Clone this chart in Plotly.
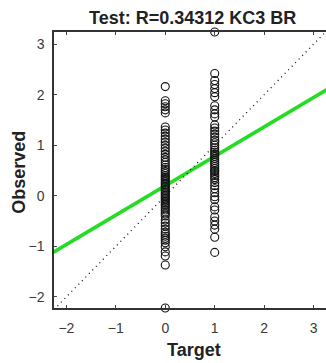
import numpy as np
import plotly.graph_objects as go

# ---- data ----
target_0 = 0.0
observed_0 = [2.16, 1.88, 1.82, 1.76, 1.70, 1.64,
              1.36, 1.30, 1.24, 1.18, 1.12, 1.06, 1.00, 0.94, 0.88, 0.82,
              0.76, 0.71, 0.66, 0.61, 0.56, 0.52, 0.48, 0.44, 0.40, 0.37, 0.34,
              0.31, 0.28, 0.25, 0.22, 0.19, 0.16, 0.13, 0.10, 0.07, 0.04, 0.01,
              -0.02, -0.05, -0.08, -0.11, -0.14, -0.17, -0.20, -0.24, -0.28, -0.32,
              -0.36, -0.40, -0.48, -0.54, -0.60, -0.66, -0.72, -0.76, -0.80, -0.84,
              -0.88, -0.93, -1.01, -1.11, -1.19, -1.37, -2.22]
target_1 = 1.0
observed_1 = [3.24, 2.42, 2.28, 2.20, 2.12, 2.04, 1.96,
              1.78, 1.70, 1.62, 1.56,
              1.40, 1.34, 1.28, 1.22, 1.16, 1.10, 1.05, 1.00,
              0.95, 0.90, 0.86, 0.82, 0.78, 0.74, 0.70, 0.66, 0.62, 0.58, 0.54, 0.50,
              0.48, 0.44, 0.40, 0.36, 0.32, 0.26, 0.20, 0.14, 0.06,
              -0.02, -0.08, -0.22, -0.28, -0.42, -0.50, -0.58, -0.66, -0.82, -1.12]

x_ticks = [-2, -1, 0, 1, 2, 3]
y_ticks = [-2, -1, 0, 1, 2, 3]
x_range = [-2.25, 3.25]
y_range = [-2.22, 3.24]
title_text = "Test: R=0.34312 KC3 BR"

# ---- derived ----
xs = np.array([target_0] * len(observed_0) + [target_1] * len(observed_1))
ys = np.array(observed_0 + observed_1)
slope, intercept = np.polyfit(xs, ys, 1)
line_x = np.array([x_range[0] - 0.5, x_range[1] + 0.5])
line_y = slope * line_x + intercept
diag = np.array([min(x_range[0], y_range[0]), max(x_range[1], y_range[1])])

fig = go.Figure()
fig.add_trace(go.Scatter(x=line_x, y=line_y, mode="lines",
                         line=dict(color="#24dc24", width=3.6),
                         hoverinfo="skip", showlegend=False))
fig.add_trace(go.Scatter(x=diag, y=diag, mode="lines",
                         line=dict(color="#111111", width=1.3, dash="1px,4px"),
                         hoverinfo="skip", showlegend=False))
fig.add_trace(go.Scatter(x=xs, y=ys, mode="markers",
                         marker=dict(symbol="circle-open", size=8,
                                     color="#111111", line=dict(width=1.1)),
                         cliponaxis=False, showlegend=False))

axis_font = dict(family="Liberation Sans, Arial, sans-serif", size=14, color="#3a3a3a")
fig.update_layout(
    width=326, height=363,
    margin=dict(l=54, r=0, t=32, b=55),
    paper_bgcolor="white", plot_bgcolor="white",
    xaxis=dict(range=x_range, tickvals=x_ticks, ticks="inside", ticklen=3,
               tickcolor="#444", showline=True, linecolor="#333", linewidth=1.5,
               mirror="ticks", showgrid=False, zeroline=False, tickfont=axis_font,
               ticklabelstandoff=6),
    yaxis=dict(range=y_range, tickvals=y_ticks, ticks="inside", ticklen=3,
               tickcolor="#444", showline=True, linecolor="#333", linewidth=1.5,
               mirror=False, showgrid=False, zeroline=False, tickfont=axis_font,
               ticklabelstandoff=5),
    annotations=[
        dict(text="<b>" + title_text + "</b>", xref="paper", yref="paper",
             x=0.51, y=1.0, yshift=14, xanchor="center", yanchor="middle",
             showarrow=False,
             font=dict(family="Liberation Sans, Arial, sans-serif", size=18, color="#222")),
        dict(text="<b>Target</b>", xref="paper", yref="paper",
             x=0.515, y=0, yshift=-42, xanchor="center", yanchor="middle",
             showarrow=False,
             font=dict(family="Liberation Sans, Arial, sans-serif", size=18, color="#222")),
        dict(text="<b>Observed</b>", xref="paper", yref="paper",
             x=0, xshift=-35, y=0.49, xanchor="center", yanchor="middle",
             textangle=-90, showarrow=False,
             font=dict(family="Liberation Sans, Arial, sans-serif", size=18, color="#222")),
    ],
)
fig.write_html("out.html")
